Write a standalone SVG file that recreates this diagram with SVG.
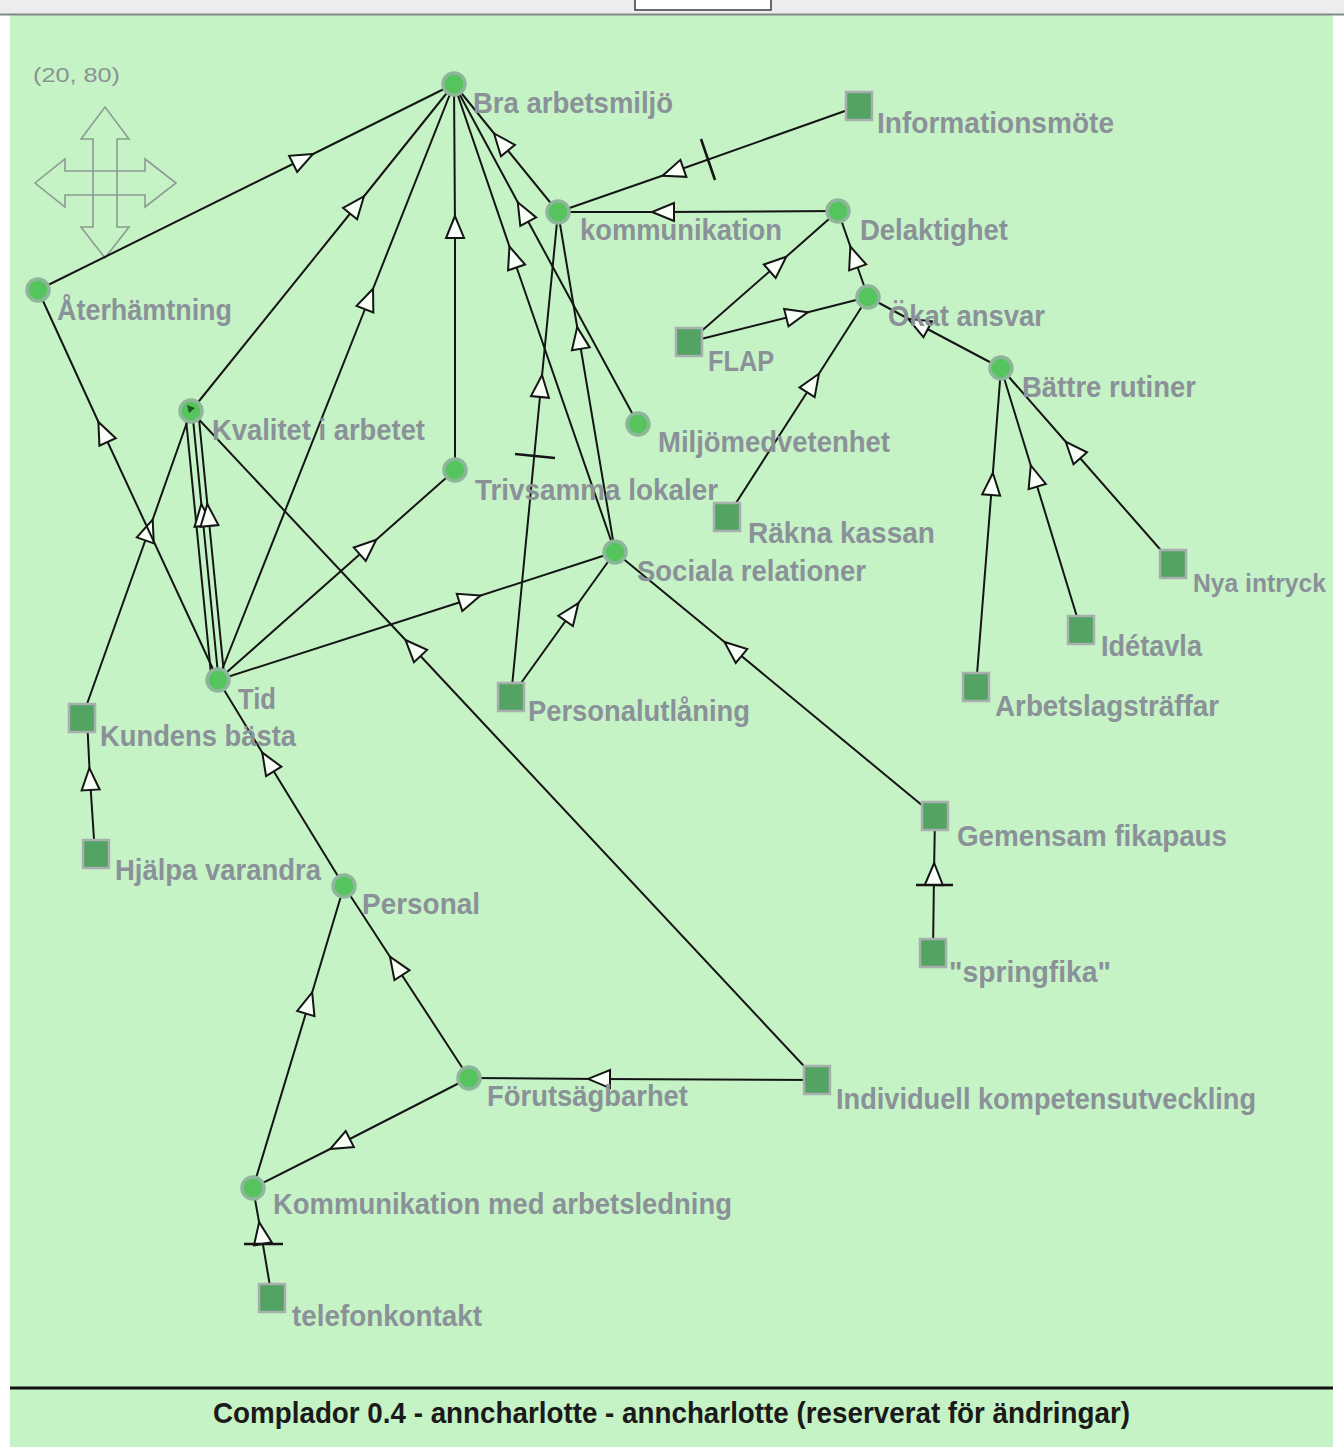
<svg xmlns="http://www.w3.org/2000/svg" width="1344" height="1450" viewBox="0 0 1344 1450">
<defs>
<style>
.cn{fill:#55c45d;stroke:#8db69b;stroke-width:3.5}
.sq{fill:#53a462;stroke:#a7afaf;stroke-width:2.5}
.lb{font-family:"Liberation Sans",Arial,sans-serif;font-weight:bold;font-size:30px;fill:#8a9199}
.ed{fill:none;stroke:#151515;stroke-width:2;marker-mid:url(#arr)}
.ln{fill:none;stroke:#151515;stroke-width:2}
.tk{stroke:#151515;stroke-width:2.6}
.nav{fill:none;stroke:#8c9c92;stroke-width:1.6}
</style>
<marker id="arr" viewBox="-13 -12 26 24" refX="0" refY="0" markerWidth="26" markerHeight="24" orient="auto" markerUnits="userSpaceOnUse">
<path d="M11,0 L-11,-9 L-11,9 Z" fill="#f7fff7" stroke="#151515" stroke-width="2"/>
</marker>
</defs>
<rect x="0" y="0" width="1344" height="1450" fill="#ffffff"/>
<rect x="10" y="15" width="1323" height="1432" fill="#c6f3c5"/>
<rect x="0" y="0" width="1344" height="15" fill="#eceeee"/>
<line x1="0" y1="14.5" x2="1344" y2="14.5" stroke="#7f8a86" stroke-width="2"/>
<path d="M635,0 V10 H771 V0" fill="#ffffff" stroke="#3a3a3a" stroke-width="1.5"/>

<g id="navigator">
<text x="33" y="82" font-family="Liberation Sans,Arial,sans-serif" font-size="21" fill="#8a9296" textLength="87" lengthAdjust="spacingAndGlyphs">(20, 80)</text>
<path class="nav" d="M105,107 L129,139 L117,139 L117,171 L145,171 L145,159 L176,183 L145,207 L145,195 L117,195 L117,227 L129,227 L105,258 L81,227 L93,227 L93,195 L65,195 L65,207 L35,183 L65,159 L65,171 L93,171 L93,139 L81,139 Z M93,171 L117,171 M93,195 L117,195 M93,171 L93,195 M117,171 L117,195"/>
</g>

<g id="connectors">
<path class="ed" d="M38,290 L303,159 L454,84"/>
<path class="ed" d="M191,411 L357,205 L454,84"/>
<path class="ed" d="M218,680 L369,299 L454,84"/>
<path class="ed" d="M455,470 L455,227 L454,84"/>
<path class="ed" d="M558,212 L501,142 L454,84"/>
<path class="ed" d="M638,424 L523,212 L454,84"/>
<path class="ed" d="M615,552 L513,257 L454,84"/>
<path class="ed" d="M615,552 L579,338 L558,212"/>
<path class="ed" d="M511,697 L541,386 L558,212"/>
<path class="ln" d="M211,674 L186,419"/>
<path class="ed" d="M218,674 L202.4,515 L193,419"/>
<path class="ed" d="M224,674 L208.4,515 L199,419"/>
<path class="ed" d="M82,718 L149,530 L191,411"/>
<path class="ed" d="M218,680 L103,432 L38,290"/>
<path class="ed" d="M218,680 L368,547 L455,470"/>
<path class="ed" d="M218,680 L470,599 L615,552"/>
<path class="ed" d="M511,697 L572,612 L615,552"/>
<path class="ed" d="M817,1080 L413,648 L191,411"/>
<path class="ed" d="M859,106 L673,172 L558,212"/>
<path class="ed" d="M838,211 L663,212 L558,212"/>
<path class="ed" d="M689,342 L778,264 L838,211"/>
<path class="ed" d="M689,342 L797,315 L868,297"/>
<path class="ed" d="M868,297 L854,257 L838,211"/>
<path class="ed" d="M1001,368 L918,324 L868,297"/>
<path class="ed" d="M727,517 L813,383 L868,297"/>
<path class="ed" d="M976,687 L992,484 L1001,368"/>
<path class="ed" d="M1081,630 L1034,476 L1001,368"/>
<path class="ed" d="M1173,564 L1073,450 L1001,368"/>
<path class="ed" d="M935,816 L733,649 L615,552"/>
<path class="ed" d="M933,953 L934,874 L935,816"/>
<path class="ed" d="M344,886 L268,762 L218,680"/>
<path class="ed" d="M95,854 L90,779 L87,718"/>
<path class="ed" d="M469,1078 L396,966 L344,886"/>
<path class="ed" d="M253,1188 L309,1003 L344,886"/>
<path class="ed" d="M469,1078 L340,1144 L253,1188"/>
<path class="ed" d="M272,1298 L261,1233 L253,1188"/>
<path class="ed" d="M817,1080 L599,1079 L469,1078"/>
<line class="tk" x1="701" y1="139" x2="715" y2="180"/>
<line class="tk" x1="515" y1="454" x2="555" y2="458"/>
<line class="tk" x1="916" y1="885" x2="953" y2="885"/>
<line class="tk" x1="244" y1="1244" x2="283" y2="1244"/>
</g>

<g id="n-bra-arbetsmiljo"><circle class="cn" cx="454" cy="84" r="11"/><text class="lb" x="473" y="113" textLength="200" lengthAdjust="spacingAndGlyphs">Bra arbetsmiljö</text></g>
<g id="n-informationsmote"><rect class="sq" x="846" y="92" width="26" height="28"/><text class="lb" x="877" y="133" textLength="237" lengthAdjust="spacingAndGlyphs">Informationsmöte</text></g>
<g id="n-kommunikation"><circle class="cn" cx="558" cy="212" r="11"/><text class="lb" x="580" y="240" textLength="202" lengthAdjust="spacingAndGlyphs">kommunikation</text></g>
<g id="n-delaktighet"><circle class="cn" cx="838" cy="211" r="11"/><text class="lb" x="860" y="240" textLength="148" lengthAdjust="spacingAndGlyphs">Delaktighet</text></g>
<g id="n-aterhamtning"><circle class="cn" cx="38" cy="290" r="11"/><text class="lb" x="57" y="320" textLength="175" lengthAdjust="spacingAndGlyphs">Återhämtning</text></g>
<g id="n-okat-ansvar"><circle class="cn" cx="868" cy="297" r="11"/><text class="lb" x="888" y="326" textLength="157" lengthAdjust="spacingAndGlyphs">Ökat ansvar</text></g>
<g id="n-flap"><rect class="sq" x="676" y="328" width="26" height="28"/><text class="lb" x="708" y="371" textLength="66" lengthAdjust="spacingAndGlyphs">FLAP</text></g>
<g id="n-battre-rutiner"><circle class="cn" cx="1001" cy="368" r="11"/><text class="lb" x="1022" y="397" textLength="174" lengthAdjust="spacingAndGlyphs">Bättre rutiner</text></g>
<g id="n-kvalitet"><circle class="cn" cx="191" cy="411" r="11"/><path d="M187,405 L195,408 L189,413 Z" fill="#1d5a22"/><text class="lb" x="212" y="440" textLength="213" lengthAdjust="spacingAndGlyphs">Kvalitet i arbetet</text></g>
<g id="n-miljomedvetenhet"><circle class="cn" cx="638" cy="424" r="11"/><text class="lb" x="658" y="452" textLength="232" lengthAdjust="spacingAndGlyphs">Miljömedvetenhet</text></g>
<g id="n-trivsamma-lokaler"><circle class="cn" cx="455" cy="470" r="11"/><text class="lb" x="475" y="500" textLength="243" lengthAdjust="spacingAndGlyphs">Trivsamma lokaler</text></g>
<g id="n-rakna-kassan"><rect class="sq" x="714" y="503" width="26" height="28"/><text class="lb" x="748" y="543" textLength="187" lengthAdjust="spacingAndGlyphs">Räkna kassan</text></g>
<g id="n-sociala-relationer"><circle class="cn" cx="615" cy="552" r="11"/><text class="lb" x="637" y="581" textLength="229" lengthAdjust="spacingAndGlyphs">Sociala relationer</text></g>
<g id="n-nya-intryck"><rect class="sq" x="1160" y="550" width="26" height="28"/><text class="lb" x="1193" y="592" font-size="26" textLength="133" lengthAdjust="spacingAndGlyphs" style="font-size:26px">Nya intryck</text></g>
<g id="n-idetavla"><rect class="sq" x="1068" y="616" width="26" height="28"/><text class="lb" x="1101" y="656" textLength="101" lengthAdjust="spacingAndGlyphs">Idétavla</text></g>
<g id="n-arbetslagstraffar"><rect class="sq" x="963" y="673" width="26" height="28"/><text class="lb" x="995" y="716" textLength="224" lengthAdjust="spacingAndGlyphs">Arbetslagsträffar</text></g>
<g id="n-tid"><circle class="cn" cx="218" cy="680" r="11"/><text class="lb" x="238" y="709" textLength="38" lengthAdjust="spacingAndGlyphs">Tid</text></g>
<g id="n-personalutlaning"><rect class="sq" x="498" y="683" width="26" height="28"/><text class="lb" x="528" y="721" textLength="222" lengthAdjust="spacingAndGlyphs">Personalutlåning</text></g>
<g id="n-kundens-basta"><rect class="sq" x="69" y="704" width="26" height="28"/><text class="lb" x="100" y="746" textLength="196" lengthAdjust="spacingAndGlyphs">Kundens bästa</text></g>
<g id="n-gemensam-fikapaus"><rect class="sq" x="922" y="802" width="26" height="28"/><text class="lb" x="957" y="846" textLength="270" lengthAdjust="spacingAndGlyphs">Gemensam fikapaus</text></g>
<g id="n-hjalpa-varandra"><rect class="sq" x="83" y="840" width="26" height="28"/><text class="lb" x="115" y="880" textLength="206" lengthAdjust="spacingAndGlyphs">Hjälpa varandra</text></g>
<g id="n-personal"><circle class="cn" cx="344" cy="886" r="11"/><text class="lb" x="362" y="914" textLength="118" lengthAdjust="spacingAndGlyphs">Personal</text></g>
<g id="n-springfika"><rect class="sq" x="920" y="939" width="26" height="28"/><text class="lb" x="949" y="982" textLength="162" lengthAdjust="spacingAndGlyphs">"springfika"</text></g>
<g id="n-forutsagbarhet"><circle class="cn" cx="469" cy="1078" r="11"/><text class="lb" x="487" y="1106" textLength="201" lengthAdjust="spacingAndGlyphs">Förutsägbarhet</text></g>
<g id="n-individuell"><rect class="sq" x="804" y="1066" width="26" height="28"/><text class="lb" x="836" y="1109" textLength="420" lengthAdjust="spacingAndGlyphs">Individuell kompetensutveckling</text></g>
<g id="n-kommunikation-arbetsledning"><circle class="cn" cx="253" cy="1188" r="11"/><text class="lb" x="273" y="1214" textLength="459" lengthAdjust="spacingAndGlyphs">Kommunikation med arbetsledning</text></g>
<g id="n-telefonkontakt"><rect class="sq" x="259" y="1284" width="26" height="28"/><text class="lb" x="292" y="1326" textLength="190" lengthAdjust="spacingAndGlyphs">telefonkontakt</text></g>

<line x1="10" y1="1388" x2="1333" y2="1388" stroke="#111" stroke-width="3"/>
<text x="213" y="1423" font-family="Liberation Sans,Arial,sans-serif" font-weight="bold" font-size="30" fill="#1a1a1a" textLength="917" lengthAdjust="spacingAndGlyphs">Complador 0.4 - anncharlotte - anncharlotte (reserverat för ändringar)</text>
</svg>
